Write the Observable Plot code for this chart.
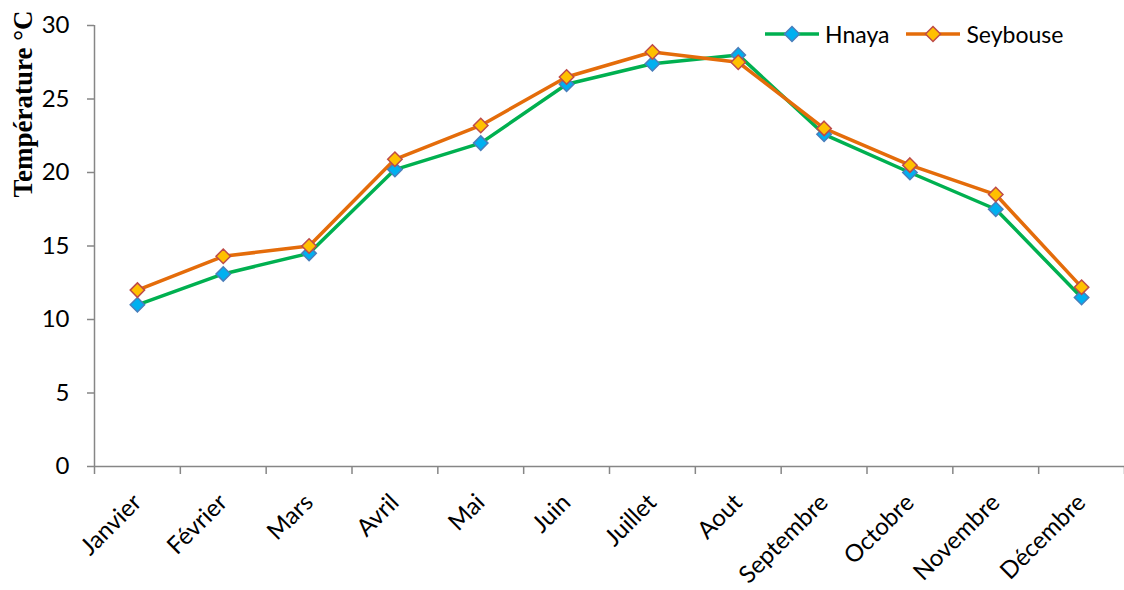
<!DOCTYPE html>
<html>
<head>
<meta charset="utf-8">
<script src="https://cdn.jsdelivr.net/npm/d3@7"></script>
<script src="https://cdn.jsdelivr.net/npm/@observablehq/plot@0.6"></script>
<style>
  html, body { margin: 0; padding: 0; background: #fff; }
  #wrap { position: relative; width: 1124px; height: 590px; font-family: Lato, "Open Sans", sans-serif; }
  #legend { position: absolute; left: 765px; top: 20px; display: flex; align-items: center; font-size: 23px; color: #000; }
  #legend .item { display: flex; align-items: center; margin-right: 17px; }
  #legend svg { margin-right: 6px; }
</style>
</head>
<body>
<div id="wrap"></div>
<script>
const months = ["Janvier","Février","Mars","Avril","Mai","Juin","Juillet","Aout","Septembre","Octobre","Novembre","Décembre"];
const hnaya    = [11.0, 13.1, 14.5, 20.2, 22.0, 26.0, 27.4, 28.0, 22.6, 20.0, 17.5, 11.5];
const seybouse = [12.0, 14.3, 15.0, 20.9, 23.2, 26.5, 28.2, 27.5, 23.0, 20.5, 18.5, 12.2];
const yTicks = [0, 5, 10, 15, 20, 25, 30];
const seriesNames = ["Hnaya", "Seybouse"];
const lineColors = ["#00B050", "#E46C0A"];
const markerFill = ["#00B0F0", "#FFC000"];
const markerStroke = ["#4A7EBB", "#BE4B48"];

const rows = [];
[hnaya, seybouse].forEach((vals, s) => vals.forEach((v, i) => rows.push({series: seriesNames[s], i: i + 0.5, month: months[i], value: v})));

const axisColor = "#868686";

const plot = Plot.plot({
  width: 1124,
  height: 590,
  marginLeft: 94,
  marginRight: 0,
  marginTop: 25,
  marginBottom: 124,
  style: {fontFamily: "Lato, 'Open Sans', sans-serif", background: "#fff", overflow: "visible"},
  x: {domain: [0, 12]},
  y: {domain: [0, 30]},
  marks: [
    Plot.ruleX([0], {y1: 0, y2: 30, stroke: axisColor, strokeWidth: 1.5}),
    Plot.ruleY([0], {x1: 0, x2: 12, stroke: axisColor, strokeWidth: 1.5}),
    Plot.axisY({ticks: yTicks, tickSize: 7, tickPadding: 18, fontSize: 24, stroke: axisColor, strokeWidth: 1.5, fill: "#000", label: null}),
    Plot.axisX({ticks: d3.range(13), tickSize: 8, tickFormat: () => "", stroke: axisColor, strokeWidth: 1.5, label: null}),
    Plot.axisX({ticks: d3.range(12).map(i => i + 0.5), tickSize: 0, tickPadding: 32, tickRotate: -45, textAnchor: "end", lineAnchor: "middle", tickFormat: d => months[Math.floor(d)], fontSize: 24, fill: "#000", label: null}),
    Plot.text(["Température °C"], {frameAnchor: "top-left", rotate: -90, textAnchor: "end", lineAnchor: "middle", dx: -71, dy: -15, fontSize: 27, fontWeight: "bold", fontFamily: "'Liberation Serif', 'DejaVu Serif', serif", fill: "#000"}),
    Plot.line(rows, {x: "i", y: "value", z: "series", stroke: d => lineColors[seriesNames.indexOf(d.series)], strokeWidth: 3.5, strokeLinejoin: "round"}),
    Plot.dot(rows, {x: "i", y: "value", symbol: "diamond2", r: 6.5, fill: d => markerFill[seriesNames.indexOf(d.series)], stroke: d => markerStroke[seriesNames.indexOf(d.series)], strokeWidth: 1.5})
  ]
});

const wrap = document.getElementById("wrap");
wrap.appendChild(plot);

const legend = document.createElement("div");
legend.id = "legend";
seriesNames.forEach((name, s) => {
  const item = document.createElement("div");
  item.className = "item";
  item.innerHTML = `<svg width="54" height="20" viewBox="0 0 54 20"><line x1="0" y1="10" x2="54" y2="10" stroke="${lineColors[s]}" stroke-width="3.5"/><path d="M27,2.5L34.5,10L27,17.5L19.5,10Z" fill="${markerFill[s]}" stroke="${markerStroke[s]}" stroke-width="1.5"/></svg><span>${name}</span>`;
  legend.appendChild(item);
});
wrap.appendChild(legend);
</script>
</body>
</html>
